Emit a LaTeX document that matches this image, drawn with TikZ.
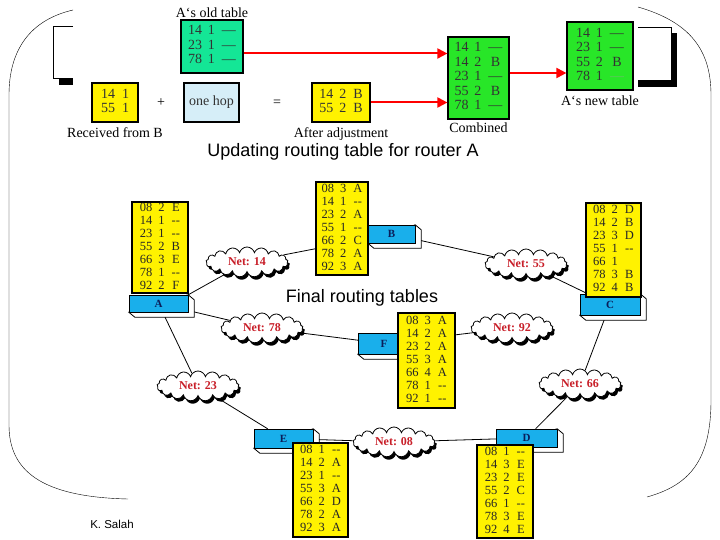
\documentclass[tikz,border=0pt]{standalone}
\usepackage{fontspec}
\setmainfont{Liberation Serif}
\setsansfont{Liberation Sans}
\usepackage{tikz}
\usetikzlibrary{positioning, arrows.meta, shapes.symbols, shadows, backgrounds}

\definecolor{oldgreen}{RGB}{20,230,150}
\definecolor{newgreen}{RGB}{40,230,40}
\definecolor{hopblue}{RGB}{214,238,248}
\definecolor{routerblue}{RGB}{25,175,235}
\definecolor{labelnavy}{RGB}{10,30,90}
\definecolor{netred}{RGB}{200,30,40}

\newcommand{\rows}[1]{\begin{tabular}{@{}l@{\hspace{6pt}}l@{\hspace{7pt}}c@{}}#1\end{tabular}}

\begin{document}
\begin{tikzpicture}[
    x=1pt, y=-1pt,
    toptab/.style={draw, line width=1.2pt, inner sep=0pt, text=black!80, font=\fontsize{14}{14.5}\selectfont},
    toplabel/.style={font=\fontsize{14}{15}\selectfont, inner sep=1pt},
    rtab/.style={draw, line width=1.2pt, fill=yellow, inner sep=0pt, text=black!85, font=\fontsize{12.5}{13}\selectfont},
    router/.style={draw, fill=routerblue, inner sep=0pt, text=labelnavy, font=\bfseries\fontsize{11}{12}\selectfont},
    net/.style={cloud, cloud puffs=17, cloud puff arc=150, aspect=2.7, draw, thick, fill=white, inner sep=0pt,
        minimum width=82pt, minimum height=30pt, text=netred, font=\bfseries\fontsize{12}{13}\selectfont,
        drop shadow={shadow xshift=2pt, shadow yshift=-3pt, fill=black, opacity=1}},
    link/.style={thick},
    side/.style={draw, fill=white, thick},
    redarrow/.style={draw=red, line width=2pt, -{Triangle[length=10pt, width=10pt, fill=red]}},
    heading/.style={font=\sffamily\fontsize{18}{21}\selectfont}
]
\useasboundingbox (0,0) rectangle (720,540);

% Slide frame
\draw (73,10) .. controls (30,20) and (9,50) .. (9,95) -- (9,425) .. controls (9,470) and (40,497) .. (128,499);
\draw (638,7) .. controls (690,22) and (711,50) .. (711,95) -- (711,400) .. controls (711,460) and (690,485) .. (647,497);
\draw (73,26) -- (53,26) -- (53,78) -- (73,78);
\fill (59,79) rectangle (73,85);
\draw (638,27) -- (671,27) -- (671,80);
\fill (638,80) rectangle (677,87);
\fill (672,33) rectangle (677,87);

% Updating table for router A
\node[toptab, fill=oldgreen, minimum width=62pt, minimum height=53pt] (oldtab) at (212,46.5)
    {\rows{14 & 1 & ---\\ 23 & 1 & ---\\ 78 & 1 & ---}};
\node[toplabel, above=1pt of oldtab] (oldlbl) {A`s old table};

\node[toptab, fill=yellow, minimum width=46pt, minimum height=39pt] (recv) at (115,102.5)
    {\begin{tabular}{@{}l@{\hspace{7pt}}l@{}}14 & 1\\ 55 & 1\end{tabular}};
\node[toplabel, below=4pt of recv] (recvlbl) {Received from B};

\node[toplabel] (plus) at (161,103) {+};
\node[toptab, fill=hopblue, minimum width=55pt, minimum height=39pt] (hop) at (211.5,102.5) {one hop};
\node[toplabel] (equals) at (277,103) {=};

\node[toptab, fill=yellow, minimum width=58pt, minimum height=39pt] (adj) at (341,102.5)
    {\rows{14 & 2 & B\\ 55 & 2 & B}};
\node[toplabel, below=4pt of adj] (adjlbl) {After adjustment};

\node[toptab, fill=newgreen, minimum width=61pt, minimum height=82pt] (comb) at (478.5,78)
    {\rows{14 & 1 & ---\\ 14 & 2 & B\\ 23 & 1 & ---\\ 55 & 2 & B\\ 78 & 1 & ---}};
\node[toplabel, below=2pt of comb] (comblbl) {Combined};

\node[toptab, fill=newgreen, minimum width=66pt, minimum height=68pt] (newtab) at (600,56)
    {\rows{14 & 1 & ---\\ 23 & 1 & ---\\ 55 & 2 & B\\ 78 & 1 & \textcolor{green!60!black!60}{---}}};
\node[toplabel, below=4pt of newtab] (newlbl) {A`s new table};

\draw[redarrow] ([yshift=-7pt]oldtab.east) -- ([yshift=-7pt]oldtab.east -| comb.west);
\draw[redarrow] (adj.east) -- (adj.east -| comb.west);
\draw[redarrow] ([yshift=5pt]comb.east) -- ([yshift=5pt]comb.east -| newtab.west);

\node[heading] (updtitle) at (343,152) {Updating routing table for router A};

% Final routing tables
\node[heading] (finaltitle) at (362,298) {Final routing tables};

% Routers
\node[router, minimum width=59pt, minimum height=17pt] (ra) at (158.5,303.5) {A};
\node[router, minimum width=47pt, minimum height=18pt] (rb) at (391.5,234) {B};
\node[router, minimum width=60pt, minimum height=21pt] (rc) at (610,304.5) {C};
\node[router, minimum width=61pt, minimum height=18pt] (rd) at (526.5,438) {D};
\node[router, minimum width=59pt, minimum height=19pt] (re) at (283.5,438.5) {E};
\node[router, minimum width=52pt, minimum height=21pt] (rf) at (384,343.5) {F};

% Networks
\node[net] (n14) at (247,262) {Net: 14};
\node[net] (n55) at (526,264) {Net: 55};
\node[net] (n78) at (262,328) {Net: 78};
\node[net] (n92) at (512,328) {Net: 92};
\node[net] (n23) at (198,386) {Net: 23};
\node[net] (n66) at (580,384) {Net: 66};
\node[net] (n08) at (394,442) {Net: 08};

% Tables
\node[rtab, minimum width=56pt, minimum height=91pt] (ta) at (160,247.5)
    {\rows{08 & 2 & E\\ 14 & 1 & {-}{-}\\ 23 & 1 & {-}{-}\\ 55 & 2 & B\\ 66 & 3 & E\\ 78 & 1 & {-}{-}\\ 92 & 2 & F}};
\node[rtab, minimum width=52pt, minimum height=93pt] (tb) at (342,228.5)
    {\rows{08 & 3 & A\\ 14 & 1 & {-}{-}\\ 23 & 2 & A\\ 55 & 1 & {-}{-}\\ 66 & 2 & C\\ 78 & 2 & A\\ 92 & 3 & A}};
\node[rtab, minimum width=55pt, minimum height=94pt] (tc) at (613.5,250)
    {\rows{08 & 2 & D\\ 14 & 2 & B\\ 23 & 3 & D\\ 55 & 1 & {-}{-}\\ 66 & 1 & \\ 78 & 3 & B\\ 92 & 4 & B}};
\node[rtab, minimum width=56pt, minimum height=93pt] (td) at (505,491.5)
    {\rows{08 & 1 & {-}{-}\\ 14 & 3 & E\\ 23 & 2 & E\\ 55 & 2 & C\\ 66 & 1 & {-}{-}\\ 78 & 3 & E\\ 92 & 4 & E}};
\node[rtab, minimum width=55pt, minimum height=94pt] (te) at (320.5,490)
    {\rows{08 & 1 & {-}{-}\\ 14 & 2 & A\\ 23 & 1 & {-}{-}\\ 55 & 3 & A\\ 66 & 2 & D\\ 78 & 2 & A\\ 92 & 3 & A}};
\node[rtab, minimum width=57pt, minimum height=95pt] (tf) at (426.5,360.5)
    {\rows{08 & 3 & A\\ 14 & 2 & A\\ 23 & 2 & A\\ 55 & 3 & A\\ 66 & 4 & A\\ 78 & 1 & {-}{-}\\ 92 & 1 & {-}{-}}};

\node[font=\sffamily\fontsize{11.5}{13}\selectfont] (author) at (112,524) {K. Salah};

% Links and box sides
\begin{scope}[on background layer]
\draw[link] (ra.north east) -- (n14);
\draw[link] (n14) -- (rb);
\draw[link] (rb) -- (n55);
\draw[link] (n55) -- (rc);
\draw[link] (ra) -- (n78);
\draw[link] (n78) -- (rf);
\draw[link] (ra) -- (n23);
\draw[link] (n23) -- (re);
\draw[link] (rf) -- (n92);
\draw[link] (rc) -- (n66);
\draw[link] (n66) -- (rd);
\draw[link] (re) -- (n08);
\draw[link] (n08) -- (rd);
\foreach \rt in {ra,rb,rc,rd,re,rf}
  \draw[side] (\rt.north east) -- ++(6,5) -- ([shift={(6,5)}]\rt.south east)
    -- ([shift={(6,5)}]\rt.south west) -- (\rt.south west) -- cycle;
\end{scope}

\end{tikzpicture}
\end{document}
